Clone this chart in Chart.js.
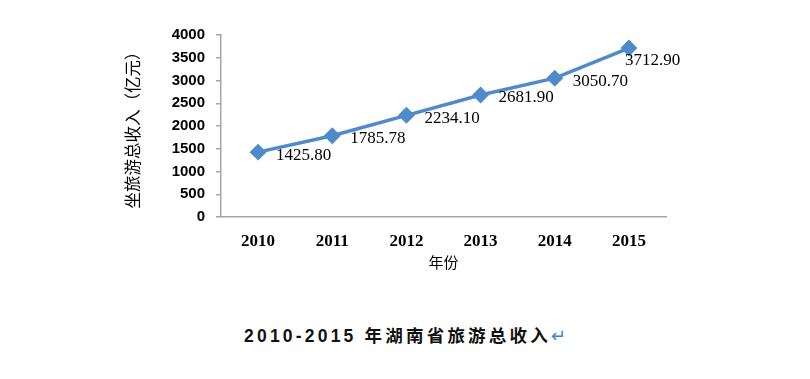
<!DOCTYPE html>
<html>
<head>
<meta charset="utf-8">
<script src="https://cdn.jsdelivr.net/npm/chart.js@4/dist/chart.umd.min.js"></script>
<style>
  html, body { margin: 0; padding: 0; background: #fff; }
  #wrap { position: relative; width: 810px; height: 379px; }
  #c { position: absolute; left: 0; top: 0; }
  #title { position: absolute; left: 0; width: 810px; top: 322px; text-align: center;
    font-family: "Liberation Sans", "Noto Sans CJK SC", sans-serif; font-weight: bold; font-size: 17.5px;
    letter-spacing: 3.2px; color: #111; }
  #title .ret { color: #3b7fd6; font-weight: normal; letter-spacing: 0; }
</style>
</head>
<body>
<div id="wrap">
  <canvas id="c" width="810" height="300"></canvas>
  <div id="title">2010-2015 年湖南省旅游总收入<span class="ret">↵</span></div>
</div>
<script>
const categories = ["2010", "2011", "2012", "2013", "2014", "2015"];
const revenue = [1425.80, 1785.78, 2234.10, 2681.90, 3050.70, 3712.90];
const yTicks = [0, 500, 1000, 1500, 2000, 2500, 3000, 3500, 4000];
const yTitle = "坐旅游总收入（亿元）";
const xTitle = "年份";

const labelPlugin = {
  id: 'valueLabels',
  afterDatasetsDraw(chart) {
    const ctx = chart.ctx;
    const meta = chart.getDatasetMeta(0);
    ctx.save();
    ctx.font = '17px "Liberation Serif", serif';
    ctx.fillStyle = '#000';
    ctx.textBaseline = 'middle';
    ctx.textAlign = 'left';
    meta.data.forEach((pt, i) => {
      const last = i === meta.data.length - 1;
      const dx = last ? -4 : 18;
      const dy = last ? 12 : 3;
      ctx.fillText(revenue[i].toFixed(2), pt.x + dx, pt.y + dy);
    });
    ctx.restore();
  }
};

new Chart(document.getElementById('c'), {
  type: 'line',
  data: {
    labels: categories,
    datasets: [{
      data: revenue,
      borderColor: '#4F8ACB',
      backgroundColor: '#4F8ACB',
      borderWidth: 3.5,
      pointStyle: 'rectRot',
      pointRadius: 6,
      pointHoverRadius: 6,
      tension: 0,
      fill: false
    }]
  },
  options: {
    responsive: false,
    animation: false,
    events: [],
    layout: { padding: { left: 123, top: 35, right: 144, bottom: 13 } },
    plugins: { legend: { display: false }, tooltip: { enabled: false } },
    scales: {
      x: {
        offset: true,
        grid: { display: false, drawTicks: false },
        border: { display: true, color: '#A6A6A6', width: 1.5 },
        ticks: { color: '#000', padding: 14, font: { family: '"Liberation Serif", serif', size: 17, weight: 'bold' } },
        title: { display: true, text: xTitle, color: '#000', padding: { top: 0, bottom: 16 },
          font: { family: '"Noto Sans CJK SC", sans-serif', size: 15 } },
        afterFit(s) { s.height = 70; }
      },
      y: {
        min: 0, max: 4000,
        afterBuildTicks(s) { s.ticks = yTicks.map(v => ({ value: v })); },
        grid: { drawOnChartArea: false, tickLength: 5, color: '#A6A6A6', lineWidth: 1.5 },
        border: { display: true, color: '#A6A6A6', width: 1.5 },
        ticks: { color: '#000', padding: 11, callback: v => String(v),
          font: { family: '"Liberation Sans", sans-serif', size: 15, weight: 'bold' } },
        title: { display: true, text: yTitle, color: '#000', padding: { top: 0, bottom: 0 },
          font: { family: '"Noto Sans CJK SC", sans-serif', size: 16.5 } },
        afterFit(s) { s.width = 98; }
      }
    }
  },
  plugins: [labelPlugin]
});
</script>
</body>
</html>
